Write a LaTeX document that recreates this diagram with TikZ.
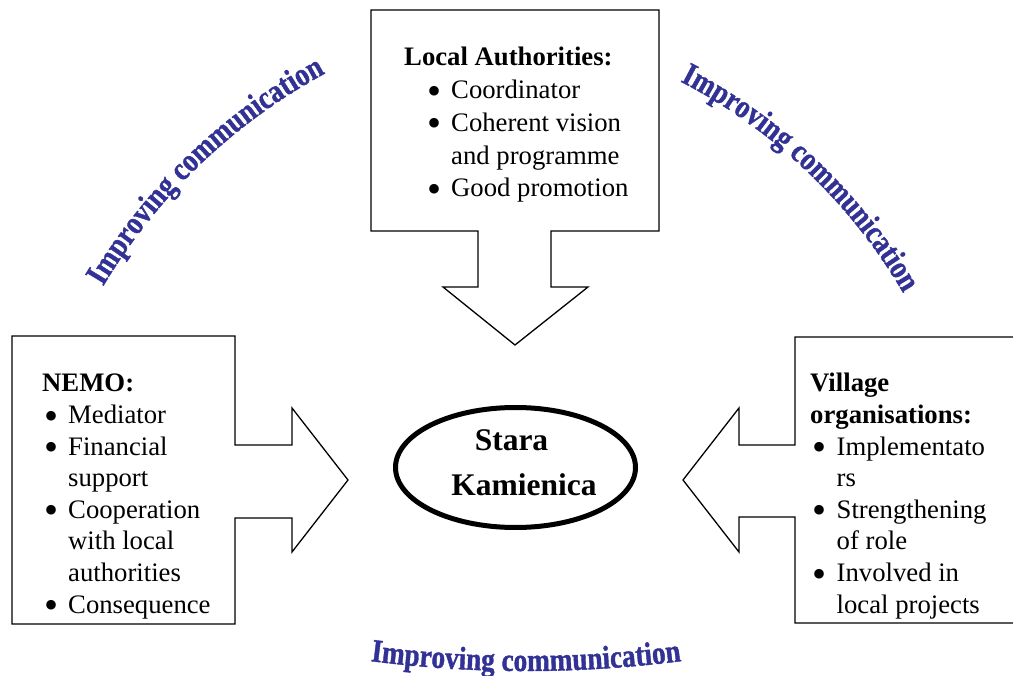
\documentclass[tikz,border=0pt]{standalone}
\usepackage{fontspec}
\setmainfont{Liberation Serif}
\newfontface\wafont{Liberation Serif Bold}[FakeStretch=0.84,FakeBold=1.2]
\usetikzlibrary{shapes.geometric,decorations.text}
\definecolor{wordblue}{RGB}{50,50,150}
\newcommand\bul{\makebox[24pt][l]{\raisebox{-5.5pt}{\scalebox{1.5}{•}}}}
\newcommand\curvefont{\wafont\fontsize{32.5}{36}\selectfont\color{wordblue}}
\begin{document}
\begin{tikzpicture}[x=1pt,y=-1pt,
  callout/.style={draw=black, line width=1.3pt, fill=white, line join=miter},
  listtext/.style={anchor=base west, inner sep=0pt},
  curved/.style={decorate, decoration={text along path, text align=center,
      text={|\curvefont|Improving communication}}}]
\clip (0,0) rectangle (1013,676);
% top callout
\draw[callout] (371,10) -- (659,10) -- (659,231) -- (551,231) -- (551,287)
  -- (588,287) -- (515,345) -- (443,287) -- (478,287) -- (478,231)
  -- (371,231) -- cycle;
% left callout
\draw[callout] (12,336) -- (235,336) -- (235,445) -- (292,445) -- (292,408)
  -- (348,480) -- (292,552) -- (292,518) -- (235,518) -- (235,624)
  -- (12,624) -- cycle;
% right callout
\draw[callout] (1030,337) -- (795,337) -- (795,445) -- (739,445) -- (739,408)
  -- (683,480) -- (739,552) -- (739,517) -- (795,517) -- (795,623)
  -- (1030,623);
% texts
\node[listtext, font=\fontsize{26.7}{32.7}\selectfont] (latext) at (404,66) {%
\begin{tabular}[t]{@{}l@{}l@{}}
\multicolumn{2}{@{}l@{}}{\bfseries Local Authorities:}\\
\hspace*{23pt}\bul & Coordinator\\
\hspace*{23pt}\bul & Coherent vision\\
 & and programme\\
\hspace*{23pt}\bul & Good promotion
\end{tabular}};
\node[listtext, font=\fontsize{26.7}{31.6}\selectfont] (nemotext) at (42,392) {%
\begin{tabular}[t]{@{}l@{}l@{}}
\multicolumn{2}{@{}l@{}}{\bfseries NEMO:}\\
\hspace*{2pt}\bul & Mediator\\
\hspace*{2pt}\bul & Financial\\
 & support\\
\hspace*{2pt}\bul & Cooperation\\
 & with local\\
 & authorities\\
\hspace*{2pt}\bul & Consequence
\end{tabular}};
\node[listtext, font=\fontsize{26.7}{31.6}\selectfont] (villtext) at (810,392) {%
\begin{tabular}[t]{@{}l@{}l@{}}
\multicolumn{2}{@{}l@{}}{\bfseries Village}\\
\multicolumn{2}{@{}l@{}}{\bfseries organisations:}\\
\hspace*{2.5pt}\bul & Implementato\\
 & rs\\
\hspace*{2.5pt}\bul & Strengthening\\
 & of role\\
\hspace*{2.5pt}\bul & Involved in\\
 & local projects
\end{tabular}};
% centre
\node[ellipse, draw, line width=5pt, minimum width=240pt, minimum height=120pt,
  inner sep=0pt] (ell) at (515.5,467.5) {};
\node[anchor=base, inner sep=0pt, font=\bfseries\fontsize{31.5}{46}\selectfont]
  (stara) at (511.5,450) {Stara};
\node[anchor=base, inner sep=0pt, font=\bfseries\fontsize{31.5}{46}\selectfont]
  (kam) at (524,496) {Kamienica};
% curved labels
\path[curved] (601.7,584) ++(206.2:580.7) arc[start angle=206.2, end angle=246.2, radius=580.7];
\path[curved] (427.5,571) ++(293.5:551) arc[start angle=293.5, end angle=333.5, radius=551];
\path[curved] (526,-551) ++(100:1222) arc[start angle=100, end angle=80, radius=1222];
\end{tikzpicture}
\end{document}
